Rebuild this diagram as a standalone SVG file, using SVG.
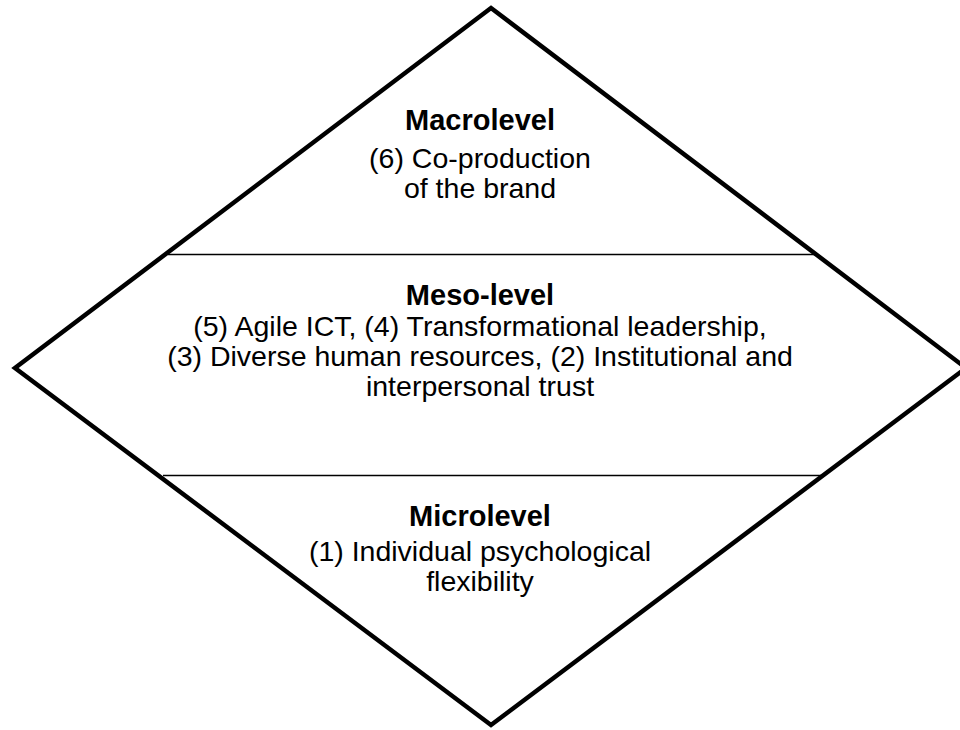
<svg xmlns="http://www.w3.org/2000/svg" width="960" height="730" viewBox="0 0 960 730">
<style>
.h{font-family:"Liberation Sans",Arial,sans-serif;font-weight:bold;font-size:29px;fill:#000;text-anchor:middle}
.t{font-family:"Liberation Sans",Arial,sans-serif;font-size:28.5px;fill:#000;text-anchor:middle}
.d{fill:#fff;stroke:#000;stroke-width:4.5;stroke-linejoin:miter}
.s{stroke:#000;stroke-width:1.5;fill:none}
</style>
<rect width="960" height="730" fill="#fff"/>
<g id="diamond">
<polygon class="d" points="491,8 966,368 491,725 15,368"/>
</g>
<g id="connectors">
<line class="s" x1="168" y1="254.5" x2="815" y2="254.5"/>
<line class="s" x1="163" y1="475.5" x2="822" y2="475.5"/>
</g>
<g id="macro">
<text class="h" x="480" y="130">Macrolevel</text>
<text class="t" x="480" y="168">(6) Co-production</text>
<text class="t" x="480" y="198">of the brand</text>
</g>
<g id="meso">
<text class="h" x="480" y="305">Meso-level</text>
<text class="t" x="480" y="336">(5) Agile ICT, (4) Transformational leadership,</text>
<text class="t" x="480" y="366">(3) Diverse human resources, (2) Institutional and</text>
<text class="t" x="480" y="396">interpersonal trust</text>
</g>
<g id="micro">
<text class="h" x="480" y="526">Microlevel</text>
<text class="t" x="480" y="561">(1) Individual psychological</text>
<text class="t" x="480" y="591">flexibility</text>
</g>
</svg>
